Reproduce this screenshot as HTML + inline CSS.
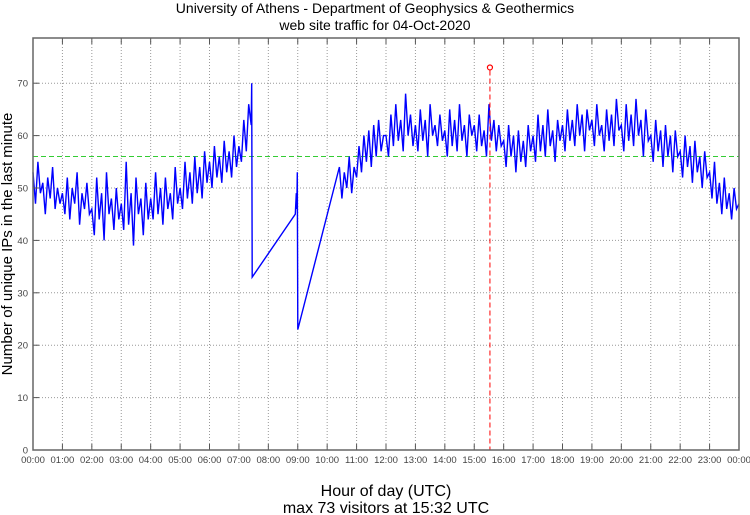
<!DOCTYPE html>
<html><head><meta charset="utf-8"><style>
body{margin:0;background:#fff}
svg{display:block;font-family:"Liberation Sans",sans-serif}
</style></head><body>
<svg id="chart" width="750" height="515" viewBox="0 0 750 515">
<text x="375" y="13" text-anchor="middle" font-size="14">University of Athens - Department of Geophysics &amp; Geothermics</text>
<text x="375" y="30" text-anchor="middle" font-size="14">web site traffic for 04-Oct-2020</text>
<text transform="translate(12,244) rotate(-90)" text-anchor="middle" font-size="15">Number of unique IPs in the last minute</text>
<text x="386" y="496" text-anchor="middle" font-size="16">Hour of day (UTC)</text>
<text x="386" y="513" text-anchor="middle" font-size="16">max 73 visitors at 15:32 UTC</text>
<g id="grid"></g><g id="marks"></g><g id="axes"></g>
</svg>
<script>
const yTicks=[0,10,20,30,40,50,60,70];
const xTickLabels=["00:00","01:00","02:00","03:00","04:00","05:00","06:00","07:00","08:00","09:00","10:00","11:00","12:00","13:00","14:00","15:00","16:00","17:00","18:00","19:00","20:00","21:00","22:00","23:00","00:00"];
const seg1Start=0;
const seg1Values=[53,47,55,49,51,45,52,48,54,46,50,47,
49,45,52,44,50,47,53,43,49,46,51,45,
46,41,52,44,49,40,53,45,48,42,50,44,
47,42,55,43,49,39,52,45,48,41,51,44,
48,44,53,45,50,43,52,46,49,44,54,47,
50,46,55,48,53,47,56,49,54,48,57,51,
55,50,58,52,56,51,59,53,57,52,60,54,
58,55,63,57,66,62];
const gapTimes=[446,447,535,537,538,539,540,625];
const gapValues=[70,33,45,49,46,53,23,54];
const seg2Start=630;
const seg2Values=[48,53,50,56,49,54,
52,58,53,60,55,61,54,62,56,63,57,60,
60,56,64,58,66,59,63,57,68,60,64,58,
62,57,65,59,63,56,66,60,62,58,64,59,
61,56,65,58,63,57,66,59,62,56,64,60,
62,57,64,58,61,56,66,59,63,57,62,58,
59,54,62,56,60,53,61,55,59,54,62,57,
60,55,64,57,62,56,65,58,61,55,63,59,
62,57,65,59,63,58,66,60,64,57,65,61,
63,58,66,60,62,57,65,59,64,58,67,61,
62,57,66,59,64,58,67,60,63,56,65,59,
60,55,63,57,61,54,62,56,60,53,61,56,
57,52,60,54,58,51,59,53,56,50,57,52,
53,48,55,47,51,45,52,46,49,44,50,46,47];
const averageValue=56;
const maxTime=932, maxValue=73;

const L=33,R=739,T=38,B=450;
const x=m=>L+(R-L)*m/1440;
const y=v=>B-v*5.24;
const NS="http://www.w3.org/2000/svg";
function mk(tag,parent,attrs){const e=document.createElementNS(NS,tag);for(const k in attrs)e.setAttribute(k,attrs[k]);parent.appendChild(e);return e;}
const grid=document.getElementById('grid'),marks=document.getElementById('marks'),axes=document.getElementById('axes');
xTickLabels.forEach((t,i)=>{
  const xx=x(i*60);
  if(i>0&&i<24){const g=mk('line',grid,{x1:xx,x2:xx,y1:T,y2:B,stroke:'#999','stroke-dasharray':'1,2','stroke-width':1});
  
  
  const tk=mk('line',axes,{x1:xx,x2:xx,y1:B,y2:B-6,stroke:'#555'});
  
  
  const tk2=mk('line',axes,{x1:xx,x2:xx,y1:T,y2:T+6,stroke:'#555'});
  
  }
  const lb=mk('text',axes,{x:xx,y:B+13,'text-anchor':'middle','font-size':9.5,fill:'#444'});
  lb.textContent=t;
  
  
});
yTicks.forEach(v=>{
  const yy=y(v);
  if(v>0){const g=mk('line',grid,{x1:L,x2:R,y1:yy,y2:yy,stroke:'#999','stroke-dasharray':'1,2'});
  
  
  const tk=mk('line',axes,{x1:L,x2:L+6,y1:yy,y2:yy,stroke:'#555'});
  
  }
  const lb=mk('text',axes,{x:L-5,y:yy+3.5,'text-anchor':'end','font-size':9.5,fill:'#444'});
  lb.textContent=v;
  
  
});
const fr=mk('rect',axes,{x:L,y:T,width:R-L,height:B-T,fill:'none',stroke:'#666','stroke-width':1.5});


const avg=mk('line',marks,{x1:L,x2:R,y1:y(averageValue),y2:y(averageValue),stroke:'#3c3','stroke-dasharray':'5,3'});


const pts=[];
seg1Values.forEach((v,i)=>pts.push([seg1Start+5*i,v]));
gapTimes.forEach((t,i)=>pts.push([t,gapValues[i]]));
seg2Values.forEach((v,i)=>pts.push([seg2Start+5*i,v]));
const pl=mk('polyline',marks,{points:pts.map(p=>x(p[0]).toFixed(1)+','+y(p[1]).toFixed(1)).join(' '),fill:'none',stroke:'#00f','stroke-width':1.4});


const mv=mk('line',marks,{x1:x(maxTime),x2:x(maxTime),y1:y(maxValue)+3,y2:B,stroke:'#f00','stroke-dasharray':'5,3'});


const mc=mk('circle',marks,{cx:x(maxTime),cy:y(maxValue),r:2.5,fill:'none',stroke:'#f00','stroke-width':1.2});


</script>
</body></html>
